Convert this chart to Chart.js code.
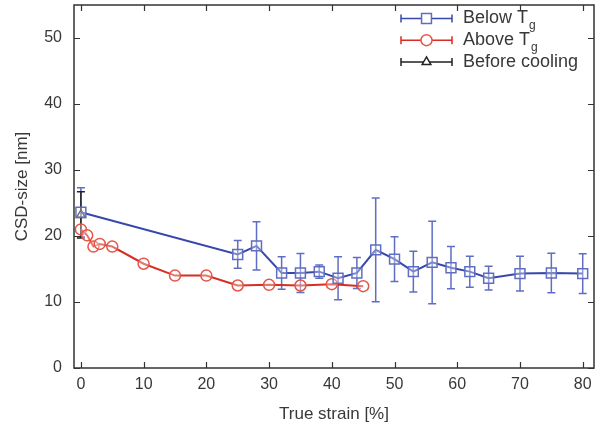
<!DOCTYPE html>
<html>
<head>
<meta charset="utf-8">
<script src="https://cdn.jsdelivr.net/npm/chart.js@4/dist/chart.umd.min.js"></script>
<style>
  html, body { margin: 0; padding: 0; background: #fff; }
  #wrap { width: 600px; height: 425px; position: relative; }
</style>
</head>
<body>
<div id="wrap"><canvas id="chart"></canvas></div>
<script>
// Below Tg
const strainBelow = [0, 25, 28, 32, 35, 38, 41, 44, 47, 50, 53, 56, 59, 62, 65, 70, 75, 80];
const sizeBelow = [23.6, 17.2, 18.5, 14.4, 14.4, 14.6, 13.6, 14.4, 17.9, 16.5, 14.6, 16.0, 15.2, 14.6, 13.6, 14.3, 14.4, 14.3];
const errBelow = [3.7, 2.1, 3.65, 2.45, 2.95, 1.0, 3.25, 2.35, 7.85, 3.4, 3.1, 6.25, 3.2, 2.35, 1.8, 2.65, 3.0, 3.0];

// Above Tg
const strainAbove = [0, 1, 2, 3, 5, 10, 15, 20, 25, 30, 35, 40, 45];
const sizeAbove = [21.0, 20.1, 18.4, 18.8, 18.4, 15.8, 14.0, 14.0, 12.5, 12.6, 12.5, 12.7, 12.4];

// Before cooling
const strainBefore = [0];
const sizeBefore = [23.2];
const errBefore = [3.5];

const xTicks = [0, 10, 20, 30, 40, 50, 60, 70, 80];
const yTicks = [0, 10, 20, 30, 40, 50];

const FONT = '"Liberation Sans", Arial, Helvetica, sans-serif';
const TEXT = '#383838';
const FRAME = '#333';

const BLUE_LINE = 'rgb(55, 72, 172)';
const BLUE_MARK = 'rgb(95, 110, 195)';
const RED_LINE = 'rgb(215, 45, 35)';
const RED_MARK = 'rgb(228, 85, 72)';
const BLACK = '#222';

function toPoints(xs, ys, errs) {
  return xs.map((x, i) => ({ x, y: ys[i], err: errs ? errs[i] : null }));
}

const errorBars = {
  id: 'errorBars',
  beforeDatasetsDraw(chart) {
    const { ctx, scales: { x, y } } = chart;
    ctx.save();
    chart.data.datasets.forEach(ds => {
      ds.data.forEach(p => {
        if (p.err == null) return;
        const px = x.getPixelForValue(p.x);
        const top = y.getPixelForValue(p.y + p.err);
        const bot = y.getPixelForValue(p.y - p.err);
        ctx.strokeStyle = ds.errorColor;
        ctx.lineWidth = 1.5;
        ctx.beginPath();
        ctx.moveTo(px, top); ctx.lineTo(px, bot);
        ctx.moveTo(px - 4, top); ctx.lineTo(px + 4, top);
        ctx.moveTo(px - 4, bot); ctx.lineTo(px + 4, bot);
        ctx.stroke();
      });
    });
    ctx.restore();
  }
};

const frameTicks = {
  id: 'frameTicks',
  afterDraw(chart) {
    const { ctx, chartArea: a, scales: { x, y } } = chart;
    ctx.save();
    ctx.strokeStyle = FRAME;
    ctx.lineWidth = 1.5;
    ctx.strokeRect(a.left, a.top, a.right - a.left, a.bottom - a.top);
    ctx.lineWidth = 1.2;
    ctx.beginPath();
    xTicks.forEach(v => {
      const px = Math.round(x.getPixelForValue(v)) + 0.5;
      ctx.moveTo(px, a.bottom); ctx.lineTo(px, a.bottom - 6);
      ctx.moveTo(px, a.top); ctx.lineTo(px, a.top + 6);
    });
    yTicks.forEach(v => {
      const py = Math.round(y.getPixelForValue(v)) + 0.5;
      ctx.moveTo(a.left, py); ctx.lineTo(a.left + 6, py);
      ctx.moveTo(a.right, py); ctx.lineTo(a.right - 6, py);
    });
    ctx.stroke();
    ctx.restore();
  }
};

const legendEntries = [
  { main: 'Below T', sub: 'g', line: BLUE_LINE, mark: BLUE_MARK, style: 'rect', r: 7 },
  { main: 'Above T', sub: 'g', line: RED_LINE, mark: RED_MARK, style: 'circle', r: 5.5 },
  { main: 'Before cooling', sub: '', line: BLACK, mark: BLACK, style: 'triangle', r: 5 }
];

const customLegend = {
  id: 'customLegend',
  afterDraw(chart) {
    const ctx = chart.ctx;
    const x0 = 401, x1 = 452, xm = 426.5, tx = 463;
    ctx.save();
    legendEntries.forEach((e, i) => {
      const cy = 18.5 + i * 21.7;
      ctx.strokeStyle = e.line;
      ctx.lineWidth = 1.5;
      ctx.beginPath();
      ctx.moveTo(x0, cy); ctx.lineTo(x1, cy);
      ctx.moveTo(x0, cy - 4); ctx.lineTo(x0, cy + 4);
      ctx.moveTo(x1, cy - 4); ctx.lineTo(x1, cy + 4);
      ctx.stroke();
      ctx.fillStyle = '#fff';
      ctx.strokeStyle = e.mark;
      ctx.lineWidth = 1.5;
      ctx.beginPath();
      if (e.style === 'rect') {
        const s = e.r * Math.SQRT1_2;
        ctx.rect(xm - s, cy - s, 2 * s, 2 * s);
      } else if (e.style === 'circle') {
        ctx.arc(xm, cy, e.r, 0, Math.PI * 2);
      } else {
        ctx.moveTo(xm, cy - e.r);
        ctx.lineTo(xm + e.r * 0.866, cy + e.r * 0.5);
        ctx.lineTo(xm - e.r * 0.866, cy + e.r * 0.5);
        ctx.closePath();
      }
      ctx.fill();
      ctx.stroke();
      ctx.fillStyle = TEXT;
      ctx.textBaseline = 'middle';
      ctx.textAlign = 'left';
      ctx.font = '18px ' + FONT;
      ctx.fillText(e.main, tx, cy);
      if (e.sub) {
        const w = ctx.measureText(e.main).width;
        ctx.font = '12px ' + FONT;
        ctx.fillText(e.sub, tx + w + 1, cy + 7);
      }
    });
    ctx.restore();
  }
};

new Chart(document.getElementById('chart'), {
  type: 'line',
  data: {
    datasets: [
      {
        label: 'Below Tg',
        data: toPoints(strainBelow, sizeBelow, errBelow),
        borderColor: BLUE_LINE,
        borderWidth: 2,
        pointStyle: 'rect',
        pointRadius: 7,
        pointBorderColor: BLUE_MARK,
        pointBackgroundColor: 'rgba(255,255,255,0.35)',
        pointBorderWidth: 1.5,
        errorColor: BLUE_MARK,
        tension: 0
      },
      {
        label: 'Above Tg',
        data: toPoints(strainAbove, sizeAbove, null),
        borderColor: RED_LINE,
        borderWidth: 2,
        pointStyle: 'circle',
        pointRadius: 5.5,
        pointBorderColor: RED_MARK,
        pointBackgroundColor: 'rgba(255,255,255,0.35)',
        pointBorderWidth: 1.5,
        errorColor: RED_MARK,
        tension: 0
      },
      {
        label: 'Before cooling',
        data: toPoints(strainBefore, sizeBefore, errBefore),
        borderColor: BLACK,
        borderWidth: 1.5,
        pointStyle: 'triangle',
        pointRadius: 5,
        pointBorderColor: BLACK,
        pointBackgroundColor: 'rgba(255,255,255,0.35)',
        pointBorderWidth: 1.5,
        errorColor: BLACK,
        showLine: false
      }
    ]
  },
  options: {
    responsive: true,
    maintainAspectRatio: false,
    animation: false,
    layout: { autoPadding: false, padding: { top: 5, right: 6, left: 0, bottom: 0 } },
    plugins: {
      legend: { display: false },
      tooltip: { enabled: false }
    },
    scales: {
      x: {
        type: 'linear',
        min: -1.1,
        max: 81.8,
        afterBuildTicks: scale => { scale.ticks = xTicks.map(v => ({ value: v })); },
        afterFit: scale => {
          scale.height = 57;
          scale.paddingLeft = 0;
          scale.paddingRight = 0;
        },
        grid: { display: false, drawTicks: false },
        border: { display: false },
        ticks: { color: TEXT, padding: 7, font: { family: FONT, size: 16 }, maxRotation: 0 },
        title: {
          display: true,
          text: 'True strain [%]',
          color: TEXT,
          font: { family: FONT, size: 17 },
          padding: { top: 3, bottom: 0 }
        }
      },
      y: {
        type: 'linear',
        min: 0,
        max: 55,
        afterBuildTicks: scale => { scale.ticks = yTicks.map(v => ({ value: v })); },
        afterFit: scale => {
          scale.width = 74;
          scale.paddingTop = 0;
          scale.paddingBottom = 0;
        },
        grid: { display: false, drawTicks: false },
        border: { display: false },
        ticks: { color: TEXT, padding: 12, font: { family: FONT, size: 16 } },
        title: {
          display: true,
          text: 'CSD-size [nm]',
          color: TEXT,
          font: { family: FONT, size: 17 },
          padding: { top: 12, bottom: 0 }
        }
      }
    }
  },
  plugins: [errorBars, frameTicks, customLegend]
});
</script>
</body>
</html>
